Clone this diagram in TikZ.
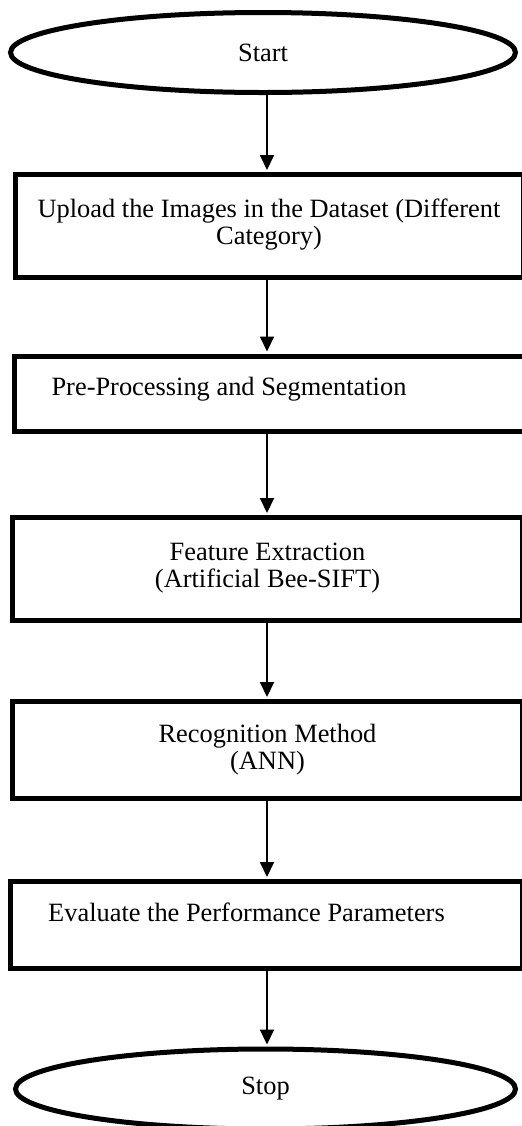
\documentclass[tikz,border=0pt]{standalone}
\usepackage{fontspec}
\setmainfont{Liberation Serif}
\usetikzlibrary{shapes.geometric}
\usetikzlibrary{arrows.meta}
\tikzset{terminal/.style={ellipse,draw,line width=2.5pt,inner sep=0pt,minimum height=40pt},
 procbox/.style={rectangle,draw,line width=2.5pt,inner sep=0pt,align=center},
 flow/.style={draw,line width=1pt,-{Triangle[width=7pt,length=7.5pt]},shorten >=1pt},
 }

\begin{document}
\begin{tikzpicture}[x=0.5pt,y=-0.5pt,font=\fontsize{13.2}{13.5}\selectfont]
        \useasboundingbox (0,0) rectangle (522,1126);
        \coordinate (axis) at (267,0);
        \node[terminal,minimum width=252.5pt] (start) at (263,52.5) {Start};
        \node[procbox,minimum width=254pt,minimum height=51.5pt] (upload) at (269,226)
            {\raisebox{8pt}{\begin{tabular}{@{}c@{}}Upload the Images in the Dataset (Different\\Category)\end{tabular}}};
        \node[procbox,minimum width=255pt,minimum height=37.5pt] (prep) at (269,393.5)
            {\raisebox{7pt}{\hspace{-40pt}Pre-Processing and Segmentation}};
        \node[procbox,minimum width=255pt,minimum height=51.5pt] (feat) at (267.5,569)
            {\raisebox{9pt}{\begin{tabular}{@{}c@{}}Feature Extraction\\(Artificial Bee-SIFT)\end{tabular}}};
        \node[procbox,minimum width=255pt,minimum height=48.5pt] (recog) at (267.5,750)
            {Recognition Method\\(ANN)};
        \node[procbox,minimum width=256pt,minimum height=43.5pt] (eval) at (266.5,925)
            {\raisebox{13pt}{\hspace{-20pt}Evaluate the Performance Parameters}};
        \node[terminal,minimum width=250pt] (stop) at (265.5,1089) {Stop};

        \draw[flow] (start.south -| axis) -- (upload.north -| axis);
        \draw[flow] (upload.south -| axis) -- (prep.north -| axis);
        \draw[flow] (prep.south -| axis) -- (feat.north -| axis);
        \draw[flow] (feat.south -| axis) -- (recog.north -| axis);
        \draw[flow] (recog.south -| axis) -- (eval.north -| axis);
        \draw[flow] (eval.south -| axis) -- (stop.north -| axis);
    \end{tikzpicture}
\end{document}
